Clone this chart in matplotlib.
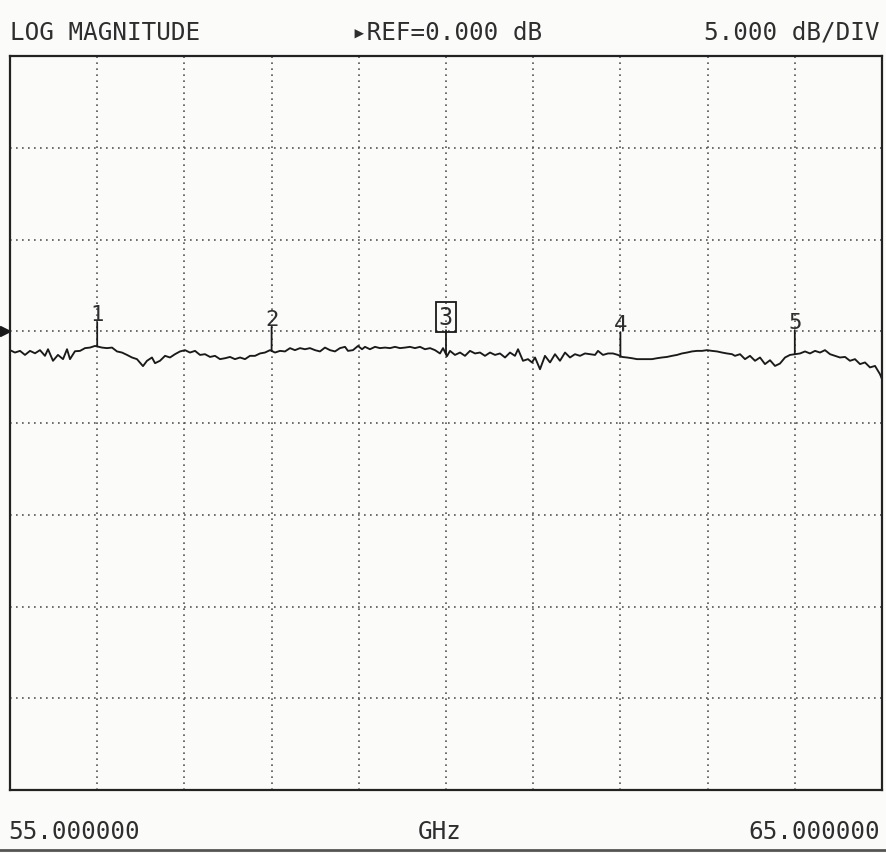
import matplotlib
matplotlib.use("Agg")
import matplotlib.pyplot as plt
import matplotlib.transforms as mtransforms
import numpy as np

# sweep readings (GHz, dB)
freq = [55.000, 55.057, 55.115, 55.172, 55.229, 55.287, 55.344, 55.401, 55.436, 55.493,
        55.550, 55.608, 55.654, 55.688, 55.745, 55.803, 55.860, 55.917, 55.975, 56.055,
        56.112, 56.170, 56.227, 56.284, 56.342, 56.399, 56.456, 56.525, 56.571, 56.628,
        56.663, 56.720, 56.778, 56.835, 56.892, 56.950, 57.007, 57.064, 57.122, 57.179,
        57.236, 57.294, 57.351, 57.408, 57.466, 57.523, 57.580, 57.638, 57.695, 57.752,
        57.810, 57.867, 57.924, 57.982, 58.039, 58.096, 58.154, 58.211, 58.268, 58.326,
        58.383, 58.440, 58.498, 58.555, 58.612, 58.670, 58.727, 58.784, 58.842, 58.876,
        58.933, 58.991, 59.037, 59.071, 59.128, 59.186, 59.243, 59.300, 59.358, 59.415,
        59.472, 59.530, 59.587, 59.644, 59.702, 59.759, 59.817, 59.874, 59.931, 59.966,
        60.011, 60.046, 60.103, 60.161, 60.218, 60.275, 60.333, 60.390, 60.447, 60.505,
        60.562, 60.619, 60.677, 60.734, 60.791, 60.826, 60.883, 60.940, 60.986, 61.021,
        61.078, 61.135, 61.193, 61.250, 61.307, 61.365, 61.422, 61.479, 61.537, 61.594,
        61.651, 61.709, 61.743, 61.800, 61.858, 61.915, 61.972, 62.018, 62.076, 62.133,
        62.190, 62.248, 62.305, 62.362, 62.420, 62.477, 62.534, 62.592, 62.649, 62.706,
        62.764, 62.821, 62.878, 62.936, 62.993, 63.050, 63.108, 63.165, 63.222, 63.280,
        63.314, 63.372, 63.429, 63.486, 63.544, 63.601, 63.658, 63.716, 63.773, 63.830,
        63.888, 63.945, 64.002, 64.060, 64.117, 64.174, 64.232, 64.289, 64.346, 64.404,
        64.461, 64.518, 64.576, 64.633, 64.690, 64.748, 64.805, 64.862, 64.920, 64.977,
        65.000]
mag_db = [-1.03, -1.16, -1.07, -1.29, -1.07, -1.20, -1.03, -1.34, -0.98, -1.61,
          -1.29, -1.52, -0.98, -1.52, -1.09, -1.07, -0.92, -0.89, -0.80, -0.89,
          -0.92, -0.89, -1.10, -1.16, -1.29, -1.43, -1.52, -1.90, -1.61, -1.43,
          -1.74, -1.61, -1.34, -1.43, -1.25, -1.10, -1.03, -1.16, -1.07, -1.29,
          -1.25, -1.40, -1.34, -1.52, -1.47, -1.40, -1.52, -1.43, -1.52, -1.34,
          -1.34, -1.21, -1.16, -1.03, -1.16, -1.07, -1.10, -0.92, -1.03, -0.92,
          -0.98, -0.92, -1.03, -1.10, -0.89, -1.03, -1.10, -0.92, -0.85, -1.07,
          -1.03, -0.80, -0.98, -0.85, -0.98, -0.85, -0.92, -0.89, -0.92, -0.85,
          -0.92, -0.89, -0.85, -0.92, -0.85, -0.98, -0.92, -1.03, -1.21, -0.92,
          -1.36, -1.07, -1.29, -1.16, -1.34, -1.07, -1.21, -1.16, -1.34, -1.16,
          -1.29, -1.21, -1.43, -1.16, -1.34, -0.98, -1.61, -1.52, -1.70, -1.43,
          -2.07, -1.34, -1.70, -1.25, -1.61, -1.16, -1.43, -1.25, -1.34, -1.21,
          -1.25, -1.29, -1.07, -1.29, -1.21, -1.21, -1.29, -1.40, -1.43, -1.47,
          -1.52, -1.52, -1.52, -1.52, -1.47, -1.43, -1.40, -1.34, -1.29, -1.21,
          -1.16, -1.10, -1.07, -1.07, -1.03, -1.07, -1.10, -1.16, -1.21, -1.25,
          -1.34, -1.25, -1.52, -1.34, -1.61, -1.43, -1.79, -1.58, -1.89, -1.76,
          -1.43, -1.29, -1.25, -1.21, -1.10, -1.21, -1.07, -1.16, -1.03, -1.25,
          -1.34, -1.43, -1.40, -1.61, -1.52, -1.79, -1.70, -1.97, -1.89, -2.34,
          -2.61]

marker_freq = [56.0, 58.0, 60.0, 62.0, 64.0]
marker_names = ["1", "2", "3", "4", "5"]
active_marker = "3"

start_ghz, stop_ghz = 55.0, 65.0
ref_db, db_per_div = 0.0, 5.0
ref_div = 5          # reference line position (divisions from bottom)
n_xdiv, n_ydiv = 10, 8

txt_col = "#2e2e2e"
mono = "DejaVu Sans Mono"

fig = plt.figure(figsize=(8.87, 8.54), dpi=100)
fig.patch.set_facecolor("#fbfbfa")
ax = fig.add_axes([10/887, 63/854, 872/887, 734/854])
ax.set_facecolor("#fbfbfa")

ybot = ref_db - ref_div*db_per_div
ytop = ybot + n_ydiv*db_per_div
ax.set_xlim(start_ghz, stop_ghz)
ax.set_ylim(ybot, ytop)

# dotted graticule
for gx in np.linspace(start_ghz, stop_ghz, n_xdiv + 1)[1:-1]:
    ax.axvline(gx, color="#555", lw=1.2, ls=(0, (1, 2.6)))
for gy in np.linspace(ybot, ytop, n_ydiv + 1)[1:-1]:
    ax.axhline(gy, color="#555", lw=1.2, ls=(0, (1, 2.6)))

ax.plot(freq, mag_db, color="#1a1a1a", lw=1.35)

# markers: stem from trace up to the label
for mf, name in zip(marker_freq, marker_names):
    mv = np.interp(mf, freq, mag_db)
    ax.annotate("", xy=(mf, mv), xytext=(0, 24), textcoords="offset pixels",
                arrowprops=dict(arrowstyle="-", color="#1a1a1a", lw=1.3,
                                shrinkA=0, shrinkB=0))
    if name == active_marker:
        ax.annotate(name, xy=(mf, mv), xytext=(0, 25), textcoords="offset pixels",
                    ha="center", va="bottom", fontsize=17, family=mono, color=txt_col,
                    bbox=dict(boxstyle="square,pad=0.12", fc="none", ec="#1a1a1a", lw=1.3))
    else:
        ax.annotate(name, xy=(mf, mv), xytext=(0, 22), textcoords="offset pixels",
                    ha="center", va="bottom", fontsize=16, family=mono, color=txt_col)

# reference position arrow at left edge
blend = mtransforms.blended_transform_factory(ax.transAxes, ax.transData)
ax.plot([-0.006], [ref_db], marker=">", ms=7, color="#1a1a1a", transform=blend,
        clip_on=False)

ax.set_xticks([])
ax.set_yticks([])
for s in ax.spines.values():
    s.set_linewidth(1.6)
    s.set_color("#222")

fs = 17.5
fig.text(10/887, 1 - 33/854, "LOG MAGNITUDE", ha="left", va="center",
         fontsize=fs, family=mono, color=txt_col)
fig.text(447/887, 1 - 33/854, "\u25B8REF=%.3f dB" % ref_db, ha="center", va="center",
         fontsize=fs, family=mono, color=txt_col)
fig.text(880/887, 1 - 33/854, "%.3f dB/DIV" % db_per_div, ha="right", va="center",
         fontsize=fs, family=mono, color=txt_col)
fig.text(8/887, 1 - 832/854, "%.6f" % start_ghz, ha="left", va="center",
         fontsize=fs, family=mono, color=txt_col)
fig.text(440/887, 1 - 832/854, "GHz", ha="center", va="center",
         fontsize=fs, family=mono, color=txt_col)
fig.text(880/887, 1 - 832/854, "%.6f" % stop_ghz, ha="right", va="center",
         fontsize=fs, family=mono, color=txt_col)

# scan edge rule at the bottom
fig.add_artist(plt.Line2D([0, 1], [1 - 851/854, 1 - 851/854], color="#555", lw=2))

fig.savefig("out.png", dpi=100, facecolor=fig.get_facecolor())
